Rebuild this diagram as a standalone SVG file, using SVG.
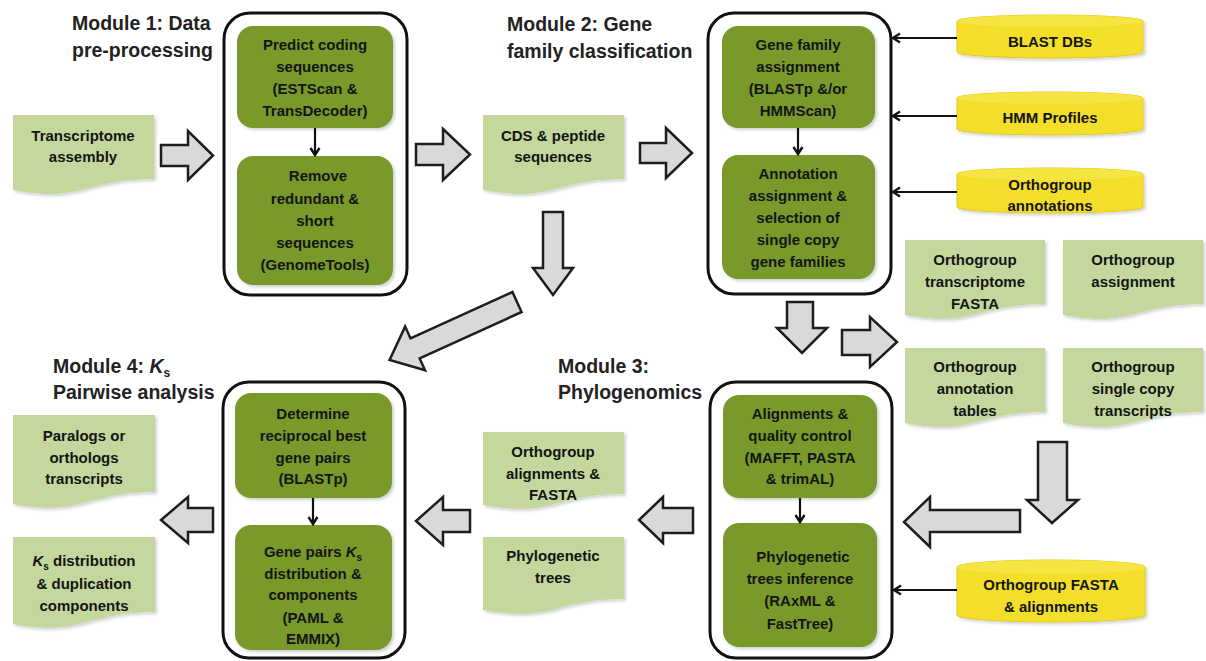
<svg xmlns="http://www.w3.org/2000/svg" width="1206" height="661" viewBox="0 0 1206 661">
<style>
text{font-family:"Liberation Sans",Arial,sans-serif;font-weight:bold;fill:#141414;}
.t{font-size:15px;text-anchor:middle;}
.title{font-size:19.5px;fill:#222;}
.cont{fill:#fff;stroke:#111;stroke-width:3;}
.proc{fill:#799a2b;}
.doc{fill:#c4d89d;}
.cyl{fill:#f3df2b;stroke:#e0cb1e;stroke-width:1;}
.cyltop{fill:#f6e443;}
.blk{fill:#d9d9d9;stroke:#1e1e1e;stroke-width:2.5;stroke-linejoin:miter;}
.ln{stroke:#111;stroke-width:2.2;fill:none;marker-end:url(#ah);}
</style>
<defs>
<marker id="ah" markerWidth="12" markerHeight="12" refX="9" refY="6" orient="auto" markerUnits="userSpaceOnUse">
<path d="M2,1.5 L9,6 L2,10.5" fill="none" stroke="#111" stroke-width="2.4"/>
</marker>
<filter id="sh" x="-10%" y="-10%" width="125%" height="130%">
<feDropShadow dx="2" dy="2" stdDeviation="1.5" flood-color="#000" flood-opacity="0.18"/>
</filter>
</defs>

<!-- Titles -->
<g id="titles">
<text class="title" x="72" y="30">Module 1: Data</text>
<text class="title" x="72" y="57">pre-processing</text>
<text class="title" x="507" y="31">Module 2: Gene</text>
<text class="title" x="507" y="58">family classification</text>
<text class="title" x="558" y="373">Module 3:</text>
<text class="title" x="558" y="399">Phylogenomics</text>
<text class="title" x="53" y="373">Module 4: <tspan font-style="italic">K</tspan><tspan font-size="12" dy="4">s</tspan></text>
<text class="title" x="53" y="399">Pairwise analysis</text>
</g>

<!-- Module containers -->
<g id="module1">
<rect class="cont" x="224" y="13" width="183" height="282" rx="26"/>
<g id="m1-predict">
<rect class="proc" x="237" y="26" width="156" height="102" rx="16" filter="url(#sh)"/>
<text class="t" x="315" y="50">Predict coding</text>
<text class="t" x="315" y="72">sequences</text>
<text class="t" x="315" y="94">(ESTScan &amp;</text>
<text class="t" x="315" y="116">TransDecoder)</text>
</g>
<g id="m1-remove">
<rect class="proc" x="237" y="156" width="156" height="129" rx="16" filter="url(#sh)"/>
<text class="t" x="318" y="181">Remove</text>
<text class="t" x="315" y="204">redundant &amp;</text>
<text class="t" x="315" y="226">short</text>
<text class="t" x="315" y="248">sequences</text>
<text class="t" x="315" y="270">(GenomeTools)</text>
</g>
</g>

<g id="module2">
<rect class="cont" x="708" y="13" width="183" height="281" rx="26"/>
<g id="m2-assign">
<rect class="proc" x="722" y="26" width="153" height="102" rx="16" filter="url(#sh)"/>
<text class="t" x="798" y="50">Gene family</text>
<text class="t" x="798" y="72">assignment</text>
<text class="t" x="798" y="94">(BLASTp &amp;/or</text>
<text class="t" x="798" y="116">HMMScan)</text>
</g>
<g id="m2-annot">
<rect class="proc" x="722" y="155" width="153" height="124" rx="16" filter="url(#sh)"/>
<text class="t" x="798" y="179">Annotation</text>
<text class="t" x="798" y="201">assignment &amp;</text>
<text class="t" x="798" y="223">selection of</text>
<text class="t" x="798" y="245">single copy</text>
<text class="t" x="798" y="267">gene families</text>
</g>
</g>

<g id="module3">
<rect class="cont" x="710" y="382" width="182" height="276" rx="26"/>
<g id="m3-align">
<rect class="proc" x="723" y="395" width="154" height="103" rx="16" filter="url(#sh)"/>
<text class="t" x="800" y="419">Alignments &amp;</text>
<text class="t" x="800" y="441">quality control</text>
<text class="t" x="800" y="463">(MAFFT, PASTA</text>
<text class="t" x="800" y="484">&amp; trimAL)</text>
</g>
<g id="m3-trees">
<rect class="proc" x="723" y="523" width="154" height="124" rx="16" filter="url(#sh)"/>
<text class="t" x="803" y="562">Phylogenetic</text>
<text class="t" x="800" y="584">trees inference</text>
<text class="t" x="800" y="606">(RAxML &amp;</text>
<text class="t" x="800" y="629">FastTree)</text>
</g>
</g>

<g id="module4">
<rect class="cont" x="223" y="382" width="182" height="276" rx="26"/>
<g id="m4-rbh">
<rect class="proc" x="235" y="393" width="157" height="105" rx="16" filter="url(#sh)"/>
<text class="t" x="313" y="419">Determine</text>
<text class="t" x="313" y="441">reciprocal best</text>
<text class="t" x="313" y="463">gene pairs</text>
<text class="t" x="313" y="484">(BLASTp)</text>
</g>
<g id="m4-ks">
<rect class="proc" x="235" y="525" width="157" height="125" rx="16" filter="url(#sh)"/>
<text class="t" x="313" y="557">Gene pairs <tspan font-style="italic">K</tspan><tspan font-size="10" dy="4">s</tspan></text>
<text class="t" x="313" y="579">distribution  &amp;</text>
<text class="t" x="313" y="600">components</text>
<text class="t" x="313" y="623">(PAML &amp;</text>
<text class="t" x="313" y="644">EMMIX)</text>
</g>
</g>

<!-- Documents -->
<g id="doc-transcriptome">
<path class="doc" filter="url(#sh)" d="M13,115 H154 V179 C83.5,179 83.5,203 13,190 Z"/>
<text class="t" x="83" y="141">Transcriptome</text>
<text class="t" x="83" y="162">assembly</text>
</g>
<g id="doc-cds">
<path class="doc" filter="url(#sh)" d="M483,115 H624 V179 C553.5,179 553.5,203 483,190 Z"/>
<text class="t" x="553" y="141">CDS &amp; peptide</text>
<text class="t" x="553" y="162">sequences</text>
</g>
<g id="doc-og-fasta">
<path class="doc" filter="url(#sh)" d="M905,240 H1045 V304 C975,304 975,328 905,315 Z"/>
<text class="t" x="975" y="265">Orthogroup</text>
<text class="t" x="975" y="287">transcriptome</text>
<text class="t" x="975" y="309">FASTA</text>
</g>
<g id="doc-og-assign">
<path class="doc" filter="url(#sh)" d="M1063,240 H1203 V304 C1133,304 1133,328 1063,315 Z"/>
<text class="t" x="1133" y="265">Orthogroup</text>
<text class="t" x="1133" y="287">assignment</text>
</g>
<g id="doc-og-annot">
<path class="doc" filter="url(#sh)" d="M905,348 H1045 V412 C975,412 975,436 905,423 Z"/>
<text class="t" x="975" y="372">Orthogroup</text>
<text class="t" x="975" y="394">annotation</text>
<text class="t" x="975" y="416">tables</text>
</g>
<g id="doc-og-single">
<path class="doc" filter="url(#sh)" d="M1063,348 H1203 V412 C1133,412 1133,436 1063,423 Z"/>
<text class="t" x="1133" y="372">Orthogroup</text>
<text class="t" x="1133" y="394">single copy</text>
<text class="t" x="1133" y="416">transcripts</text>
</g>
<g id="doc-og-align">
<path class="doc" filter="url(#sh)" d="M483,432 H624 V494 C553.5,494 553.5,518 483,505 Z"/>
<text class="t" x="553" y="457">Orthogroup</text>
<text class="t" x="553" y="479">alignments &amp;</text>
<text class="t" x="553" y="500">FASTA</text>
</g>
<g id="doc-phylotrees">
<path class="doc" filter="url(#sh)" d="M483,537 H624 V599 C553.5,599 553.5,623 483,610 Z"/>
<text class="t" x="553" y="561">Phylogenetic</text>
<text class="t" x="553" y="583">trees</text>
</g>
<g id="doc-paralogs">
<path class="doc" filter="url(#sh)" d="M13,415 H155 V492 C84,492 84,517 13,504 Z"/>
<text class="t" x="84" y="441">Paralogs or</text>
<text class="t" x="84" y="463">orthologs</text>
<text class="t" x="84" y="484">transcripts</text>
</g>
<g id="doc-ksdist">
<path class="doc" filter="url(#sh)" d="M13,537 H155 V612 C84,612 84,637 13,624 Z"/>
<text class="t" x="84" y="566"><tspan font-style="italic">K</tspan><tspan font-size="10" dy="4">s</tspan><tspan dy="-4"> distribution</tspan></text>
<text class="t" x="84" y="589">&amp; duplication</text>
<text class="t" x="84" y="611">components</text>
</g>

<!-- Databases -->
<g id="db-blast">
<path class="cyl" filter="url(#sh)" d="M957,21 A93,6 0 0 1 1143,21 V52 A93,6 0 0 1 957,52 Z"/>
<ellipse class="cyltop" cx="1050" cy="21" rx="93" ry="6"/>
<text class="t" x="1050" y="47">BLAST DBs</text>
</g>
<g id="db-hmm">
<path class="cyl" filter="url(#sh)" d="M957,98 A93,6 0 0 1 1143,98 V129 A93,6 0 0 1 957,129 Z"/>
<ellipse class="cyltop" cx="1050" cy="98" rx="93" ry="6"/>
<text class="t" x="1050" y="123">HMM Profiles</text>
</g>
<g id="db-ogannot">
<path class="cyl" filter="url(#sh)" d="M957,174 A93,6 0 0 1 1143,174 V207 A93,6 0 0 1 957,207 Z"/>
<ellipse class="cyltop" cx="1050" cy="174" rx="93" ry="6"/>
<text class="t" x="1050" y="190">Orthogroup</text>
<text class="t" x="1050" y="211">annotations</text>
</g>
<g id="db-ogfasta">
<path class="cyl" filter="url(#sh)" d="M957,567 A94,7 0 0 1 1145,567 V615 A94,7 0 0 1 957,615 Z"/>
<ellipse class="cyltop" cx="1051" cy="567" rx="94" ry="7"/>
<text class="t" x="1051" y="590">Orthogroup FASTA</text>
<text class="t" x="1051" y="612">&amp;  alignments</text>
</g>

<!-- Connectors -->
<g id="connectors">
<line class="ln" x1="315" y1="128" x2="315" y2="155"/>
<line class="ln" x1="798" y1="128" x2="798" y2="154"/>
<line class="ln" x1="800" y1="498" x2="800" y2="522"/>
<line class="ln" x1="313" y1="498" x2="313" y2="524"/>
<line class="ln" x1="957" y1="38" x2="893" y2="38"/>
<line class="ln" x1="957" y1="116" x2="893" y2="116"/>
<line class="ln" x1="957" y1="192" x2="893" y2="192"/>
<line class="ln" x1="957" y1="590" x2="894" y2="590"/>

<polygon class="blk" points="161,145 188,145 188,131 213,155.5 188,180 188,166 161,166"/>
<polygon class="blk" points="416,144 443,144 443,129 470,154.5 443,180 443,165 416,165"/>
<polygon class="blk" points="640,143 666,143 666,128 692,153 666,178 666,163 640,163"/>
<polygon class="blk" points="543,212 563,212 563,268 573,268 553,295 533,268 543,268"/>
<polygon class="blk" points="787,302 813,302 813,328 827,328 802,353 777,328 787,328"/>
<polygon class="blk" points="842,330 870,330 870,317 897,342 870,367 870,355 842,355"/>
<polygon class="blk" points="1038,442 1067,442 1067,500 1078,500 1052,523 1027,500 1038,500"/>
<polygon class="blk" points="1020,510 930,510 930,497 904,522 930,547 930,532 1020,532"/>
<polygon class="blk" points="693,508 663,508 663,497 639,520 663,543 663,533 693,533"/>
<polygon class="blk" points="470,510 443,510 443,497 416,521 443,545 443,532 470,532"/>
<polygon class="blk" points="213,508 188,508 188,497 161,520 188,543 188,532 213,532"/>
<polygon class="blk" transform="translate(517,302) rotate(155.5)" points="0,-11 112,-11 112,-24 140,0 112,24 112,11 0,11"/>
</g>
</svg>
